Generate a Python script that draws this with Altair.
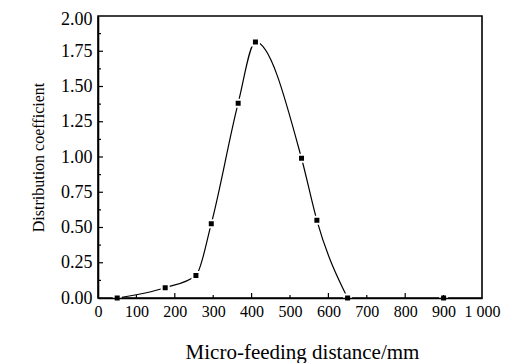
import altair as alt
import pandas as pd

distance_mm = [50, 175, 255, 295, 365, 410, 530, 570, 650, 900]
coefficient = [0.0, 0.073, 0.16, 0.527, 1.382, 1.816, 0.991, 0.551, 0.0, 0.0]

# Axis tick positions
x_labels = [0, 100, 200, 300, 400, 500, 600, 700, 800, 900, 1000]
x_major_ticks = [200, 400, 600, 800]
x_minor_ticks = [100, 300, 500, 700, 900]
y_labels = [0.0, 0.25, 0.5, 0.75, 1.0, 1.25, 1.5, 1.75, 2.0]
y_major_ticks = [0.25, 0.5, 0.75, 1.0, 1.25, 1.5, 1.75]
y_minor_ticks = [0.125, 0.375, 0.625, 0.875, 1.125, 1.375, 1.625, 1.875]

W, H = 384, 282
FONT = "Liberation Serif"

pts = pd.DataFrame({"x": distance_mm, "y": coefficient})
curve = pts[pts["x"] <= 650]

X = alt.X(
    "x:Q",
    scale=alt.Scale(domain=[0, 1000], nice=False, zero=False),
    axis=alt.Axis(
        values=x_labels,
        format="d",
        labelExpr="datum.value == 1000 ? '1\u00a0000' : datum.label",
        title="Micro-feeding distance/mm",
        ticks=False,
        grid=False,
        labelOverlap=False,
        labelFlush=False,
        labelBound=False,
        labelFontSize=16,
        labelPadding=5,
        titleFontSize=21,
        titlePadding=22,
        titleX=204,
        zindex=1,
    ),
)
Y = alt.Y(
    "y:Q",
    scale=alt.Scale(domain=[0, 2], nice=False, zero=False),
    axis=alt.Axis(
        values=y_labels,
        format=".2f",
        title="Distribution coefficient",
        ticks=False,
        grid=False,
        labelOverlap=False,
        labelFlush=False,
        labelOffset=alt.ConditionalAxisNumber(
            condition={"test": "datum.value == 2", "value": 3}, value=0
        ),
        labelFontSize=18,
        labelPadding=6,
        titleFontSize=16,
        titlePadding=14,
        zindex=1,
    ),
)

line = alt.Chart(curve).mark_line(
    interpolate="monotone", color="black", strokeWidth=1.2
).encode(x=X, y=Y)

points = alt.Chart(pts).mark_square(
    size=49, filled=True, color="black", stroke="white", strokeWidth=2, opacity=1
).encode(x=X, y=Y)

xmaj = alt.Chart(pd.DataFrame({"x": x_major_ticks})).mark_rule(
    color="black", strokeWidth=1.2
).encode(x=X, y=alt.value(H), y2=alt.value(H - 5))
xmin = alt.Chart(pd.DataFrame({"x": x_minor_ticks})).mark_rule(
    color="black", strokeWidth=1.2
).encode(x=X, y=alt.value(H), y2=alt.value(H - 3))
ymaj = alt.Chart(pd.DataFrame({"y": y_major_ticks})).mark_rule(
    color="black", strokeWidth=1.2
).encode(y=Y, x=alt.value(0), x2=alt.value(5))
ymin = alt.Chart(pd.DataFrame({"y": y_minor_ticks})).mark_rule(
    color="black", strokeWidth=1.2
).encode(y=Y, x=alt.value(0), x2=alt.value(3))

chart = (
    alt.layer(line, points, xmaj, xmin, ymaj, ymin)
    .properties(
        width=W,
        height=H,
        autosize=alt.AutoSizeParams(type="none"),
        padding={"left": 90, "top": 8, "right": 36, "bottom": 65},
        background="white",
    )
    .configure_view(stroke="black", strokeWidth=1.6)
    .configure_axis(
        domainColor="black",
        domainWidth=1.6,
        labelFont=FONT,
        labelColor="black",
        titleFont=FONT,
        titleFontWeight="normal",
        titleColor="black",
    )
)

chart.save("out.html", embed_options={"renderer": "svg", "actions": False})
